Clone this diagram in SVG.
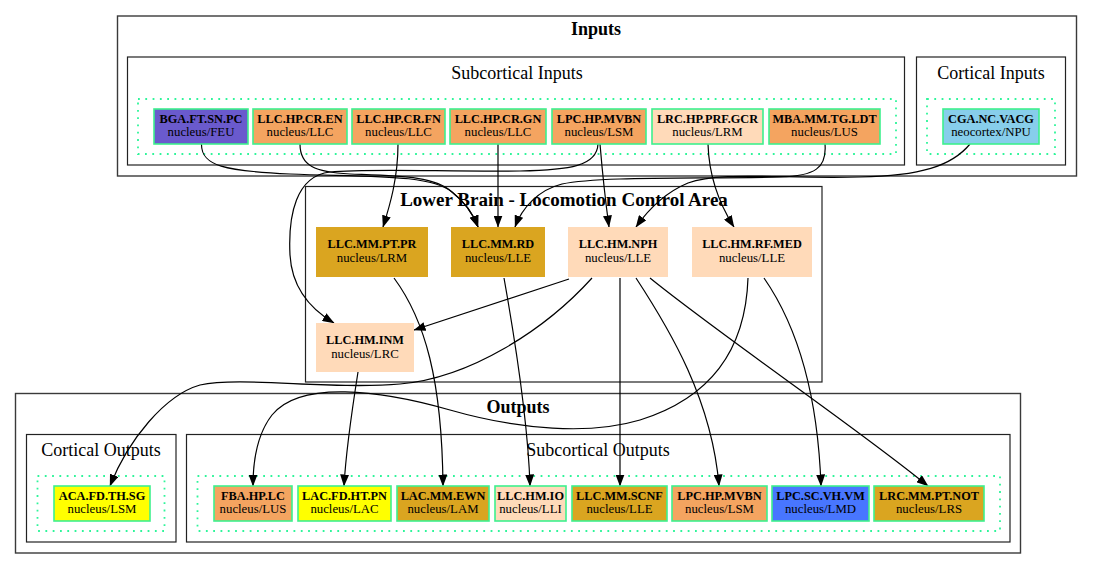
<svg xmlns="http://www.w3.org/2000/svg" width="1093" height="569" viewBox="0 0 1093 569">
<defs>
<style>
.co{fill:none;stroke:#3a3a3a;stroke-width:1.4}
.ci{fill:none;stroke:#222;stroke-width:1.2}
.dot{fill:none;stroke:#2ef59a;stroke-width:1.8;stroke-dasharray:1.8 5.5}
.nb{stroke:#3ef08e;stroke-width:1.6}
.t1{font-family:"Liberation Serif","Times New Roman",serif;font-weight:bold;font-size:12.3px;text-anchor:middle;fill:#000}
.t2{font-family:"Liberation Serif","Times New Roman",serif;font-size:12.8px;text-anchor:middle;fill:#000}
.tb{font-family:"Liberation Serif","Times New Roman",serif;font-weight:bold;font-size:18px;text-anchor:middle;fill:#000}
.tn{font-family:"Liberation Serif","Times New Roman",serif;font-size:18px;text-anchor:middle;fill:#000}
.e{fill:none;stroke:#000;stroke-width:1.2;marker-end:url(#arr)}
</style>
<marker id="arr" viewBox="0 0 12 9" refX="11.5" refY="4.5" markerWidth="12" markerHeight="9" markerUnits="userSpaceOnUse" orient="auto">
<path d="M0,0 L12,4.5 L0,9 z" fill="#000"/>
</marker>
</defs>
<rect width="1093" height="569" fill="#fff"/>

<g id="clusters">
<rect class="co" x="117.5" y="16" width="959" height="160"/>
<text class="tb" x="596" y="35">Inputs</text>
<rect class="ci" x="127.5" y="57" width="777" height="108"/>
<text class="tn" x="517" y="79">Subcortical Inputs</text>
<rect class="dot" x="138" y="99" width="758" height="55"/>
<rect class="ci" x="916.5" y="57" width="149" height="108"/>
<text class="tn" x="991" y="79">Cortical Inputs</text>
<rect class="dot" x="927" y="99" width="128" height="55"/>

<rect class="ci" x="305.5" y="186.5" width="516.5" height="195.5"/>
<text class="tb" x="564" y="206" style="font-size:19px">Lower Brain - Locomotion Control Area</text>

<rect class="co" x="15.5" y="393.5" width="1005" height="159.5"/>
<text class="tb" x="518" y="413">Outputs</text>
<rect class="ci" x="26.5" y="434.5" width="149.5" height="107.5"/>
<text class="tn" x="101" y="456">Cortical Outputs</text>
<rect class="dot" x="37.5" y="476" width="127" height="55"/>
<rect class="ci" x="186.5" y="434.5" width="823.5" height="107.5"/>
<text class="tn" x="598" y="456">Subcortical Outputs</text>
<rect class="dot" x="197.5" y="476" width="802.5" height="55"/>
</g>

<g id="connectors">
<path class="e" d="M201.5,144 C201,166 225,171 290,174 C370,177 430,174 452,192 C466,203 474,216 478,227"/>
<path class="e" d="M300,144 C300,166 315,172 350,174 C400,176 435,176 452,192 C466,203 474,216 478,227"/>
<path class="e" d="M398,144 C398,178 390,205 383,227"/>
<path class="e" d="M498,144 L498,227"/>
<path class="e" d="M600,144 C603,180 606,205 609,227"/>
<path class="e" d="M598,144 C597,166 570,170 520,171 C450,172 370,168 330,172 C296,176 288,215 290,255 C292,290 312,310 334,323"/>
<path class="e" d="M708,144 C709,178 720,205 734,227"/>
<path class="e" d="M825,144 C827,168 815,176 780,177 C700,179 600,176 562,184 C538,190 522,208 515,227"/>
<path class="e" d="M970,144 C952,166 920,176 860,177 C780,179 720,171 688,183 C664,193 648,210 636,227"/>
<path class="e" d="M569,279 L414,330"/>
<path class="e" d="M592,278 C545,330 470,378 400,384 C330,390 240,376 200,385 C165,395 128,440 110,486"/>
<path class="e" d="M620,278 L620,486"/>
<path class="e" d="M636,278 C670,330 712,400 719,486"/>
<path class="e" d="M650,278 C720,335 860,430 928,486"/>
<path class="e" d="M748,278 C746,340 720,395 640,420 C590,435 520,430 450,410 C380,390 300,380 272,415 C258,433 253,460 253,486"/>
<path class="e" d="M764,278 C800,330 818,400 821,486"/>
<path class="e" d="M394,278 C425,320 442,380 443,486"/>
<path class="e" d="M504,278 C515,340 528,420 530,486"/>
<path class="e" d="M358,372 C352,410 346,450 344,486"/>
</g>

<g id="BGA.FT.SN.PC"><rect class="nb" x="154" y="109" width="94" height="35" fill="#6a5acd"/><text class="t1" x="201" y="122.5">BGA.FT.SN.PC</text><text class="t2" x="201" y="135.5">nucleus/FEU</text></g>
<g id="LLC.HP.CR.EN"><rect class="nb" x="253" y="109" width="94" height="35" fill="#f4a460"/><text class="t1" x="300" y="122.5">LLC.HP.CR.EN</text><text class="t2" x="300" y="135.5">nucleus/LLC</text></g>
<g id="LLC.HP.CR.FN"><rect class="nb" x="352" y="109" width="93" height="35" fill="#f4a460"/><text class="t1" x="398.5" y="122.5">LLC.HP.CR.FN</text><text class="t2" x="398.5" y="135.5">nucleus/LLC</text></g>
<g id="LLC.HP.CR.GN"><rect class="nb" x="450" y="109" width="96" height="35" fill="#f4a460"/><text class="t1" x="498" y="122.5">LLC.HP.CR.GN</text><text class="t2" x="498" y="135.5">nucleus/LLC</text></g>
<g id="LPC.HP.MVBN-in"><rect class="nb" x="552" y="109" width="94" height="35" fill="#f4a460"/><text class="t1" x="599" y="122.5">LPC.HP.MVBN</text><text class="t2" x="599" y="135.5">nucleus/LSM</text></g>
<g id="LRC.HP.PRF.GCR"><rect class="nb" x="652" y="109" width="111" height="35" fill="#ffdab9"/><text class="t1" x="707.5" y="122.5">LRC.HP.PRF.GCR</text><text class="t2" x="707.5" y="135.5">nucleus/LRM</text></g>
<g id="MBA.MM.TG.LDT"><rect class="nb" x="769" y="109" width="111" height="35" fill="#f4a460"/><text class="t1" x="824.5" y="122.5">MBA.MM.TG.LDT</text><text class="t2" x="824.5" y="135.5">nucleus/LUS</text></g>
<g id="CGA.NC.VACG"><rect class="nb" x="943" y="109" width="96" height="35" fill="#87ceeb"/><text class="t1" x="991" y="122.5">CGA.NC.VACG</text><text class="t2" x="991" y="135.5">neocortex/NPU</text></g>

<g id="LLC.MM.PT.PR"><rect x="316" y="227" width="112" height="50" fill="#daa520"/><text class="t1" x="372" y="248">LLC.MM.PT.PR</text><text class="t2" x="372" y="262">nucleus/LRM</text></g>
<g id="LLC.MM.RD"><rect x="451" y="227" width="94" height="50" fill="#daa520"/><text class="t1" x="498" y="248">LLC.MM.RD</text><text class="t2" x="498" y="262">nucleus/LLE</text></g>
<g id="LLC.HM.NPH"><rect x="568" y="227" width="100" height="50" fill="#ffdab9"/><text class="t1" x="618" y="248">LLC.HM.NPH</text><text class="t2" x="618" y="262">nucleus/LLE</text></g>
<g id="LLC.HM.RF.MED"><rect x="692" y="227" width="120" height="50" fill="#ffdab9"/><text class="t1" x="752" y="248">LLC.HM.RF.MED</text><text class="t2" x="752" y="262">nucleus/LLE</text></g>
<g id="LLC.HM.INM"><rect x="316" y="323" width="98" height="49" fill="#ffdab9"/><text class="t1" x="365" y="344">LLC.HM.INM</text><text class="t2" x="365" y="358">nucleus/LRC</text></g>

<g id="ACA.FD.TH.SG"><rect class="nb" x="54" y="486" width="96" height="35" fill="#ffff00"/><text class="t1" x="102" y="500">ACA.FD.TH.SG</text><text class="t2" x="102" y="513">nucleus/LSM</text></g>
<g id="FBA.HP.LC"><rect class="nb" x="214" y="486" width="78" height="35" fill="#f4a460"/><text class="t1" x="253" y="500">FBA.HP.LC</text><text class="t2" x="253" y="513">nucleus/LUS</text></g>
<g id="LAC.FD.HT.PN"><rect class="nb" x="298" y="486" width="93" height="35" fill="#ffff00"/><text class="t1" x="344.5" y="500">LAC.FD.HT.PN</text><text class="t2" x="344.5" y="513">nucleus/LAC</text></g>
<g id="LAC.MM.EWN"><rect class="nb" x="397" y="486" width="92" height="35" fill="#daa520"/><text class="t1" x="443" y="500">LAC.MM.EWN</text><text class="t2" x="443" y="513">nucleus/LAM</text></g>
<g id="LLC.HM.IO"><rect class="nb" x="495" y="486" width="71" height="35" fill="#ffdab9"/><text class="t1" x="530.5" y="500">LLC.HM.IO</text><text class="t2" x="530.5" y="513">nucleus/LLI</text></g>
<g id="LLC.MM.SCNF"><rect class="nb" x="572" y="486" width="95" height="35" fill="#daa520"/><text class="t1" x="619.5" y="500">LLC.MM.SCNF</text><text class="t2" x="619.5" y="513">nucleus/LLE</text></g>
<g id="LPC.HP.MVBN-out"><rect class="nb" x="672" y="486" width="95" height="35" fill="#f4a460"/><text class="t1" x="719.5" y="500">LPC.HP.MVBN</text><text class="t2" x="719.5" y="513">nucleus/LSM</text></g>
<g id="LPC.SC.VH.VM"><rect class="nb" x="772" y="486" width="97" height="35" fill="#4876ff"/><text class="t1" x="820.5" y="500">LPC.SC.VH.VM</text><text class="t2" x="820.5" y="513">nucleus/LMD</text></g>
<g id="LRC.MM.PT.NOT"><rect class="nb" x="874" y="486" width="110" height="35" fill="#daa520"/><text class="t1" x="929" y="500">LRC.MM.PT.NOT</text><text class="t2" x="929" y="513">nucleus/LRS</text></g>
</svg>
